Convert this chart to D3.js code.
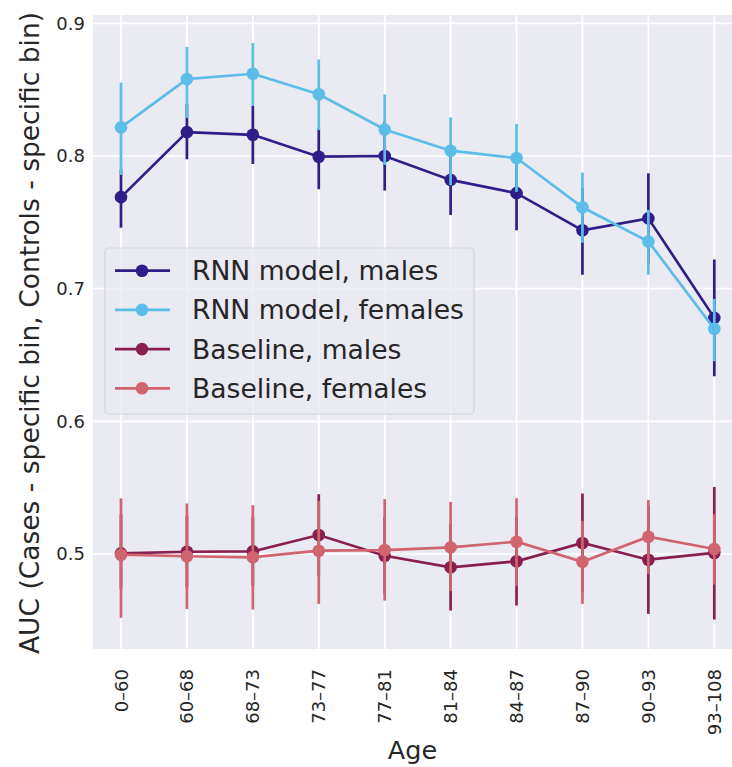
<!DOCTYPE html>
<html lang="en">
<head>
    <meta charset="UTF-8">
    <title>auc-by-age</title>
    <style>
        body {
            margin: 0;
            background: white;
            font-family: "DejaVu Sans", sans-serif;
        }
    </style>
    <script src="https://d3js.org/d3.v7.min.js"></script>
</head>
<body>

<script>

    // age bins on the x axis
    let ages = ["0–60", "60–68", "68–73", "73–77", "77–81", "81–84", "84–87", "87–90", "90–93", "93–108"]

    // RNN model, males
    let rnnMales   = [0.769, 0.818, 0.816, 0.7995, 0.800, 0.782, 0.772, 0.744, 0.753, 0.678]
    let rnnMalesLo = [0.746, 0.7975, 0.794, 0.775, 0.774, 0.7556, 0.744, 0.7105, 0.719, 0.634]
    let rnnMalesHi = [0.790, 0.839, 0.838, 0.821, 0.826, 0.808, 0.800, 0.776, 0.787, 0.722]

    // RNN model, females
    let rnnFemales   = [0.8216, 0.858, 0.862, 0.8466, 0.820, 0.804, 0.7985, 0.7614, 0.7356, 0.6697]
    let rnnFemalesLo = [0.7857, 0.8286, 0.8383, 0.8195, 0.7932, 0.778, 0.773, 0.7346, 0.7105, 0.6454]
    let rnnFemalesHi = [0.8554, 0.8822, 0.8852, 0.8727, 0.8464, 0.8291, 0.8241, 0.7875, 0.7594, 0.6923]

    // Baseline, males
    let baseMales   = [0.5005, 0.5017, 0.502, 0.5143, 0.4987, 0.490, 0.4945, 0.5083, 0.4957, 0.5008]
    let baseMalesLo = [0.4737, 0.475, 0.476, 0.4835, 0.470, 0.4574, 0.4612, 0.471, 0.4549, 0.4506]
    let baseMalesHi = [0.530, 0.529, 0.528, 0.5451, 0.528, 0.5226, 0.528, 0.5456, 0.5365, 0.5506]

    // Baseline, females
    let baseFemales   = [0.4995, 0.4983, 0.4975, 0.5025, 0.503, 0.505, 0.5093, 0.4942, 0.513, 0.5038]
    let baseFemalesLo = [0.4519, 0.4586, 0.4581, 0.4624, 0.4649, 0.472, 0.476, 0.4624, 0.485, 0.477]
    let baseFemalesHi = [0.5419, 0.5381, 0.5368, 0.540, 0.5414, 0.5393, 0.5421, 0.525, 0.5408, 0.530]

    let yTicks = [0.5, 0.6, 0.7, 0.8, 0.9]

    let seriesNames = ["RNN model, males", "RNN model, females", "Baseline, males", "Baseline, females"]
    let seriesColors = ["#2f1e87", "#5cbde8", "#871f50", "#d0646f"]

    let width = 732;
    let height = 767;
    let panelColor = "#eaeaf2"
    let textColor = "#262626"

    let svg = d3.select("body").append("svg")
        .attr("width", width)
        .attr("height", height)

    let plotLeft = 93, plotRight = 732, plotTop = 15, plotBottom = 649;

    let x = d3.scaleLinear()
        .domain([0, ages.length - 1])
        .range([121, 714.3]);

    let y = d3.scaleLinear()
        .domain([0.4284, 0.9063])
        .range([plotBottom, plotTop]);

    svg.append("rect")
        .attr("x", plotLeft)
        .attr("y", plotTop)
        .attr("width", plotRight - plotLeft)
        .attr("height", plotBottom - plotTop)
        .attr("fill", panelColor);

    // grid
    svg.append("g")
        .selectAll("line")
        .data(yTicks)
        .enter()
        .append("line")
        .attr("x1", plotLeft)
        .attr("x2", plotRight)
        .attr("y1", d => y(d))
        .attr("y2", d => y(d))
        .style("stroke", "white")
        .style("stroke-width", 1.7);

    svg.append("g")
        .selectAll("line")
        .data(ages)
        .enter()
        .append("line")
        .attr("x1", (d, i) => x(i))
        .attr("x2", (d, i) => x(i))
        .attr("y1", plotTop)
        .attr("y2", plotBottom)
        .style("stroke", "white")
        .style("stroke-width", 1.7);

    // y tick labels
    let yAxis = d3.axisLeft(y).tickValues(yTicks).tickSize(0).tickPadding(8).tickFormat(d3.format(".1f"));
    let yG = svg.append("g")
        .attr("transform", "translate(" + plotLeft + ",0)")
        .call(yAxis);
    yG.select(".domain").remove();
    yG.selectAll("text")
        .style("font-family", "DejaVu Sans")
        .style("font-size", "18px")
        .attr("fill", textColor);

    // x tick labels
    svg.append("g")
        .selectAll("text")
        .data(ages)
        .enter()
        .append("text")
        .attr("transform", (d, i) => "translate(" + (x(i) + 6.5) + "," + (plotBottom + 20) + ") rotate(-90)")
        .attr("text-anchor", "end")
        .style("font-size", "18px")
        .attr("fill", textColor)
        .text(d => d);

    // series
    let series = [
        {val: rnnMales, lo: rnnMalesLo, hi: rnnMalesHi},
        {val: rnnFemales, lo: rnnFemalesLo, hi: rnnFemalesHi},
        {val: baseMales, lo: baseMalesLo, hi: baseMalesHi},
        {val: baseFemales, lo: baseFemalesLo, hi: baseFemalesHi}
    ]

    let line = d3.line()
        .x((d, i) => x(i))
        .y(d => y(d));

    series.forEach(function (s, k) {
        let g = svg.append("g");
        let color = seriesColors[k];

        g.selectAll("line")
            .data(s.val)
            .enter()
            .append("line")
            .attr("x1", (d, i) => x(i))
            .attr("x2", (d, i) => x(i))
            .attr("y1", (d, i) => y(s.lo[i]))
            .attr("y2", (d, i) => y(s.hi[i]))
            .style("stroke", color)
            .style("stroke-width", 2.7);

        g.append("path")
            .datum(s.val)
            .attr("d", line)
            .attr("fill", "none")
            .style("stroke", color)
            .style("stroke-width", 2.7);

        g.selectAll("circle")
            .data(s.val)
            .enter()
            .append("circle")
            .attr("cx", (d, i) => x(i))
            .attr("cy", d => y(d))
            .attr("r", 6.3)
            .attr("fill", color);
    });

    // legend
    let legend = svg.append("g");
    legend.append("rect")
        .attr("x", 105)
        .attr("y", 248)
        .attr("width", 369)
        .attr("height", 166)
        .attr("rx", 4)
        .attr("fill", panelColor)
        .attr("fill-opacity", 0.8)
        .style("stroke", "#d4d4dc")
        .style("stroke-width", 1.2);

    let rows = legend.selectAll("g.row")
        .data(seriesNames)
        .enter()
        .append("g")
        .attr("class", "row")
        .attr("transform", (d, i) => "translate(0," + (270.7 + i * 39.2) + ")");

    rows.append("line")
        .attr("x1", 115)
        .attr("x2", 170)
        .style("stroke", (d, i) => seriesColors[i])
        .style("stroke-width", 2.7);

    rows.append("circle")
        .attr("cx", 142)
        .attr("r", 6.3)
        .attr("fill", (d, i) => seriesColors[i]);

    rows.append("text")
        .attr("x", 192)
        .attr("y", 9.5)
        .style("font-size", "26.6px")
        .attr("fill", textColor)
        .text(d => d);

    // axis titles
    svg.append("text")
        .attr("x", (plotLeft + plotRight) / 2)
        .attr("y", 759)
        .attr("text-anchor", "middle")
        .style("font-size", "25.5px")
        .attr("fill", textColor)
        .text("Age");

    svg.append("text")
        .attr("transform", "translate(39,333) rotate(-90)")
        .attr("text-anchor", "middle")
        .style("font-size", "26.5px")
        .attr("fill", textColor)
        .text("AUC (Cases - specific bin, Controls - specific bin)");

</script>

</body>
</html>
